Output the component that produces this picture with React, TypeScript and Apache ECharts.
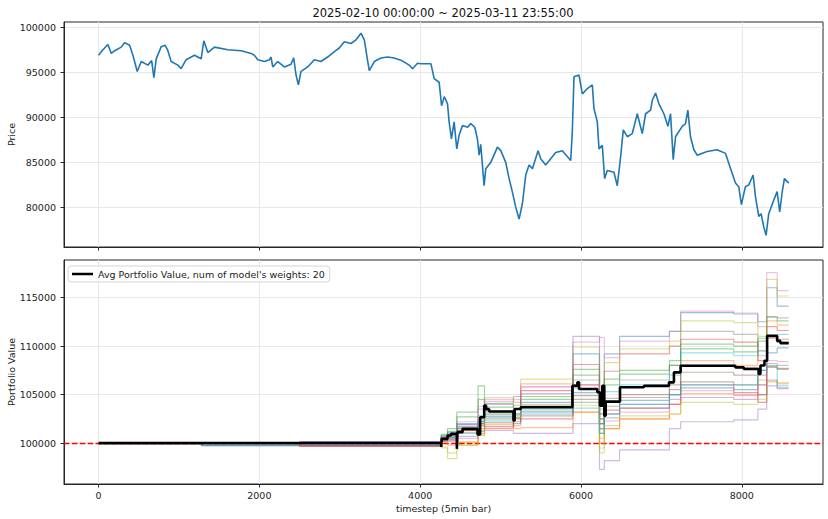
import React, { useEffect, useRef } from "react";
import * as echarts from "echarts";

const titleText = "2025-02-10 00:00:00 ~ 2025-03-11 23:55:00";
const legendLabel = "Avg Portfolio Value, num of model's weights: 20";
const initialCapital = 100000;

const xTicks = [0, 2000, 4000, 6000, 8000];
const priceTicks = [80000, 85000, 90000, 95000, 100000];
const pvTicks = [100000, 105000, 110000, 115000];

const priceSteps = [
  0, 34, 75, 116, 158, 200, 282, 323, 386, 427, 481, 531, 613, 660, 688, 717, 779, 829, 862, 903,
  986, 1027, 1089, 1193, 1276, 1309, 1359, 1441, 1607, 1773, 1897, 1938, 1980, 2062, 2125, 2145, 2166, 2228, 2311, 2394,
  2427, 2456, 2485, 2518, 2601, 2684, 2766, 2849, 2932, 2994, 3056, 3139, 3201, 3263, 3305, 3346, 3367, 3429, 3512, 3595,
  3677, 3760, 3864, 3905, 3967, 4009, 4133, 4174, 4236, 4266, 4300, 4340, 4360, 4389, 4422, 4455, 4484, 4526, 4588, 4629,
  4679, 4712, 4733, 4753, 4774, 4795, 4816, 4878, 4961, 5002, 5064, 5106, 5147, 5189, 5230, 5271, 5313, 5354, 5396, 5466,
  5499, 5561, 5685, 5768, 5872, 5892, 5913, 5975, 6017, 6079, 6141, 6161, 6203, 6224, 6265, 6294, 6327, 6410, 6451, 6493,
  6526, 6576, 6638, 6700, 6762, 6804, 6866, 6887, 6928, 6969, 7031, 7081, 7114, 7147, 7176, 7259, 7300, 7329, 7362, 7404,
  7445, 7569, 7693, 7797, 7838, 7880, 7921, 7962, 7995, 8045, 8087, 8141, 8170, 8211, 8240, 8273, 8302, 8335, 8397, 8439,
  8472, 8501, 8530, 8584,
];
const priceValues = [
  96900, 97300, 97700, 98100, 97100, 97400, 97800, 98300, 98000, 96900, 95100, 96200, 95800, 96300, 94400, 96500, 97850, 98000, 97400, 96200,
  95800, 95400, 96400, 96900, 96500, 98500, 97200, 97800, 97500, 97400, 97100, 96900, 96400, 96200, 96400, 96700, 95600, 96200, 95600, 95900,
  96600, 94700, 93600, 95100, 95600, 96400, 96200, 96700, 97300, 97700, 98400, 98200, 98600, 99350, 98600, 96300, 95200, 96200, 96600, 96700,
  96600, 96350, 95800, 95400, 96000, 95960, 95960, 94300, 93900, 91300, 92300, 91500, 89500, 87600, 89500, 86500, 88000, 89100, 88900, 89300,
  88900, 87600, 85800, 87000, 84700, 82400, 84300, 85000, 86700, 86300, 85000, 83200, 81700, 80000, 78700, 80400, 83600, 84700, 84300, 86300,
  85400, 84700, 86100, 86300, 85200, 88400, 94500, 94700, 92600, 93200, 93600, 91000, 89500, 86500, 86900, 83200, 84100, 83900, 82400, 85600,
  88600, 87850, 88200, 90400, 88200, 90400, 90800, 91900, 92700, 91500, 90400, 89000, 90400, 85300, 87850, 89000, 89300, 90800, 87850, 86400,
  85800, 86200, 86400, 86000, 84900, 83800, 82700, 82300, 80300, 82300, 82500, 83600, 81200, 79000, 79300, 77850, 76900, 79300, 80800, 81750,
  79500, 81600, 83200, 82700,
];

const avgSteps = [
  0, 4262, 4268, 4340, 4382, 4456, 4464, 4527, 4713, 4746, 4796, 4820, 4858, 5160, 5175, 5251, 5893, 5955, 5976, 6203,
  6236, 6265, 6290, 6307, 6485, 6783, 7094, 7156, 7239, 7921, 8025, 8211, 8232, 8282, 8315, 8440, 8480, 8584,
];
const avgValues = [
  100000, 99600, 100440, 100780, 100950, 99410, 101130, 101470, 100900, 102670, 103860, 103500, 103250, 102340, 103520, 103700, 105900, 106260, 105580, 105240,
  103860, 105900, 102830, 104270, 105750, 105900, 106260, 107290, 107970, 107800, 107630, 107120, 108000, 108480, 111050, 110530, 110300, 110300,
];

const modelBreaks = [0, 1280, 2500, 4262, 4340, 4456, 4720, 4800, 5160, 5250, 5900, 6230, 6290, 6480, 7100, 7240, 7900, 8200, 8310, 8440, 8584];
const modelRuns = [
  [100000, 99750, 99750, 100600, 100800, 101900, 102800, 103100, 103500, 104200, 109200, 104000, 109200, 111000, 111500, 113450, 113300, 112500, 116000, 114100, 114100],
  [100000, 100000, 100000, 100300, 100500, 100100, 101500, 102100, 101800, 106100, 103200, 100500, 101500, 102500, 104000, 108500, 108000, 109500, 112600, 112150, 112150],
  [100000, 100000, 100000, 100900, 101500, 103200, 105900, 104100, 104800, 104800, 107600, 103000, 106000, 107100, 108000, 109700, 109400, 110500, 113000, 112600, 112600],
  [100000, 100000, 99700, 100400, 100600, 101300, 102000, 101500, 102500, 102500, 108100, 102500, 107400, 109200, 110000, 110700, 110400, 108500, 112000, 111600, 111600],
  [100000, 100000, 100150, 100200, 100400, 100700, 101000, 101300, 101000, 101000, 102000, 97300, 98200, 99300, 101500, 102200, 102400, 103500, 106500, 105700, 105700],
  [100000, 100000, 100000, 100500, 100900, 101700, 102600, 103300, 103000, 103700, 104500, 101500, 103800, 104700, 105500, 106300, 106000, 105000, 107800, 107600, 107600],
  [100000, 100000, 100000, 100700, 101000, 102200, 103800, 104500, 104200, 105800, 110400, 110900, 108800, 110500, 111500, 113600, 113400, 112000, 117550, 115700, 115700],
  [100000, 100000, 100000, 100500, 100700, 101500, 102400, 102700, 103000, 103900, 106500, 102000, 104600, 106500, 108000, 111500, 111200, 109000, 113000, 112900, 112900],
  [100000, 100000, 100000, 99500, 99000, 100100, 101300, 104700, 103500, 106600, 109900, 99000, 108300, 109700, 110500, 112600, 112400, 111000, 116870, 115150, 115150],
  [100000, 100000, 100000, 100400, 100600, 101100, 102000, 102300, 102600, 103500, 105600, 101500, 105300, 106000, 107000, 109300, 109000, 109500, 111050, 111200, 111200],
  [100000, 99750, 99750, 100600, 101100, 102000, 102200, 102900, 102000, 103000, 105200, 101000, 104200, 104400, 105000, 105700, 105500, 107500, 109300, 109800, 109800],
  [100000, 100000, 100000, 100100, 99800, 99800, 100800, 101900, 101500, 101600, 103200, 100000, 101500, 102500, 103000, 105100, 104900, 106500, 106400, 106200, 106200],
  [100000, 100000, 100000, 100800, 101200, 102700, 104500, 103700, 103900, 104500, 107000, 102500, 106600, 107500, 108500, 110200, 110000, 110800, 111000, 110400, 110400],
  [100000, 100000, 99700, 100300, 100200, 101300, 101800, 101700, 102200, 105400, 106000, 103000, 103400, 103600, 104000, 106000, 105200, 104200, 110800, 110700, 110700],
  [100000, 100000, 100150, 100700, 100400, 100500, 101200, 104000, 103500, 105100, 111000, 104000, 103000, 104000, 104500, 104700, 104500, 105000, 105900, 105600, 105600],
  [100000, 100000, 100000, 100300, 100500, 101500, 102200, 102500, 102800, 102800, 104900, 102000, 103000, 105000, 106000, 107300, 107000, 106000, 107900, 107700, 107700],
  [100000, 100000, 100000, 100500, 100800, 101900, 103500, 104300, 104500, 105800, 106000, 103500, 102300, 103200, 104000, 105400, 105000, 106000, 108500, 108400, 108400],
  [100000, 100000, 100000, 100200, 100300, 101000, 102000, 102100, 102600, 103300, 104200, 102000, 102600, 103600, 105000, 108000, 107800, 107000, 108200, 108000, 108000],
  [100000, 100000, 100000, 99600, 98400, 99800, 100800, 103000, 102600, 104000, 103900, 99500, 101800, 102800, 103000, 104200, 104000, 104500, 106300, 106100, 106100],
  [100000, 100000, 100000, 100400, 100700, 101600, 102200, 102700, 103000, 103200, 103600, 101000, 103000, 104000, 105000, 106000, 106000, 107500, 108000, 105900, 105900],
];

const tab10 = ["#1f77b4", "#ff7f0e", "#2ca02c", "#d62728", "#9467bd", "#8c564b", "#e377c2", "#7f7f7f", "#bcbd22", "#17becf"];

const FONT = "DejaVu Sans";
const GRID_COLOR = "#e8e8e8";
const SPINE = "#262626";
const SMALL = 9.5;

export default function App() {
  const ref = useRef<HTMLDivElement>(null);

  useEffect(() => {
    if (!ref.current) return;
    const chart = echarts.init(ref.current, null, { renderer: "svg" });

    const plain = (v: number) => String(v);
    const axisLabelStyle = { color: "#222", fontSize: SMALL, fontFamily: FONT, formatter: plain };
    const nameStyle = { color: "#222", fontSize: SMALL, fontFamily: FONT };

    const modelSeries = modelRuns.map((run, i) => ({
      name: "model " + (i + 1),
      type: "line",
      xAxisIndex: 1,
      yAxisIndex: 1,
      step: "end",
      symbol: "none",
      silent: true,
      z: 2,
      lineStyle: { color: tab10[i % 10], width: 1.2, opacity: 0.45 },
      data: modelBreaks.map((x, j) => [x, run[j]]),
      ...(i === 0
        ? {
            markLine: {
              silent: true,
              symbol: "none",
              z: 1,
              label: { show: false },
              lineStyle: { color: "#ff0000", type: [5.5, 2.4], width: 1.4, opacity: 1 },
              data: [{ yAxis: initialCapital }],
            },
          }
        : {}),
    }));

    const xAxisBase = {
      type: "value",
      min: -430,
      max: 9010,
      splitNumber: 5,
      axisLine: { show: true, onZero: false, lineStyle: { color: SPINE } },
      axisTick: { show: true, length: 3.5, lineStyle: { color: SPINE }, customValues: xTicks },
      splitLine: { show: true, lineStyle: { color: GRID_COLOR } },
    };

    const gridBase = {
      left: 64,
      width: 759,
      show: true,
      borderColor: SPINE,
      borderWidth: 1,
      backgroundColor: "transparent",
      containLabel: false,
      outerBoundsMode: "none",
    };

    const option: any = {
      animation: false,
      graphic: [
        {
          type: "text",
          x: 443,
          y: 13,
          style: {
            text: titleText,
            align: "center",
            verticalAlign: "middle",
            font: `11.5px '${FONT}'`,
            fill: "#111",
          },
        },
      ],
      legend: {
        data: [{ name: legendLabel, icon: "rect" }],
        left: 68,
        top: 266,
        orient: "horizontal",
        backgroundColor: "#fff",
        borderColor: "#d5d5d5",
        borderWidth: 1,
        borderRadius: 3,
        padding: [3, 5, 3, 4],
        itemWidth: 21,
        itemHeight: 2.5,
        itemGap: 6,
        textStyle: { color: "#222", fontSize: SMALL, fontFamily: FONT, lineHeight: 10 },
      },
      grid: [
        { ...gridBase, top: 22, height: 225 },
        { ...gridBase, top: 260, height: 224 },
      ],
      xAxis: [
        {
          ...xAxisBase,
          gridIndex: 0,
          axisLabel: { show: false },
        },
        {
          ...xAxisBase,
          gridIndex: 1,
          name: "timestep (5min bar)",
          nameLocation: "middle",
          nameGap: 19,
          nameMoveOverlap: false,
          nameTextStyle: nameStyle,
          axisLabel: { ...axisLabelStyle, margin: 6, customValues: xTicks },
        },
      ],
      yAxis: [
        {
          type: "value",
          gridIndex: 0,
          min: 75600,
          max: 100590,
          splitNumber: 5,
          name: "Price",
          nameLocation: "middle",
          nameGap: 48,
          nameMoveOverlap: false,
          nameTextStyle: nameStyle,
          axisLine: { show: true, onZero: false, lineStyle: { color: SPINE } },
          axisTick: { show: true, length: 3.5, lineStyle: { color: SPINE }, customValues: priceTicks },
          axisLabel: { ...axisLabelStyle, margin: 8, customValues: priceTicks },
          splitLine: { show: true, lineStyle: { color: GRID_COLOR } },
        },
        {
          type: "value",
          gridIndex: 1,
          min: 95790,
          max: 118860,
          splitNumber: 5,
          name: "Portfolio Value",
          nameLocation: "middle",
          nameGap: 48,
          nameMoveOverlap: false,
          nameTextStyle: nameStyle,
          axisLine: { show: true, onZero: false, lineStyle: { color: SPINE } },
          axisTick: { show: true, length: 3.5, lineStyle: { color: SPINE }, customValues: pvTicks },
          axisLabel: { ...axisLabelStyle, margin: 8, customValues: pvTicks },
          splitLine: { show: true, lineStyle: { color: GRID_COLOR } },
        },
      ],
      series: [
        {
          name: "Price",
          type: "line",
          xAxisIndex: 0,
          yAxisIndex: 0,
          symbol: "none",
          silent: true,
          lineStyle: { color: "#1f77b4", width: 1.6 },
          data: priceSteps.map((x, i) => [x, priceValues[i]]),
        },
        ...modelSeries,
        {
          name: legendLabel,
          type: "line",
          xAxisIndex: 1,
          yAxisIndex: 1,
          step: "end",
          symbol: "none",
          silent: true,
          z: 10,
          itemStyle: { color: "#000" },
          lineStyle: { color: "#000", width: 2.6 },
          data: avgSteps.map((x, i) => [x, avgValues[i]]),
        },
      ],
    };

    chart.setOption(option);
    return () => chart.dispose();
  }, []);

  return (
    <div
      ref={ref}
      style={{ position: "fixed", left: 0, top: 0, width: 828, height: 519, background: "#fff" }}
    />
  );
}
